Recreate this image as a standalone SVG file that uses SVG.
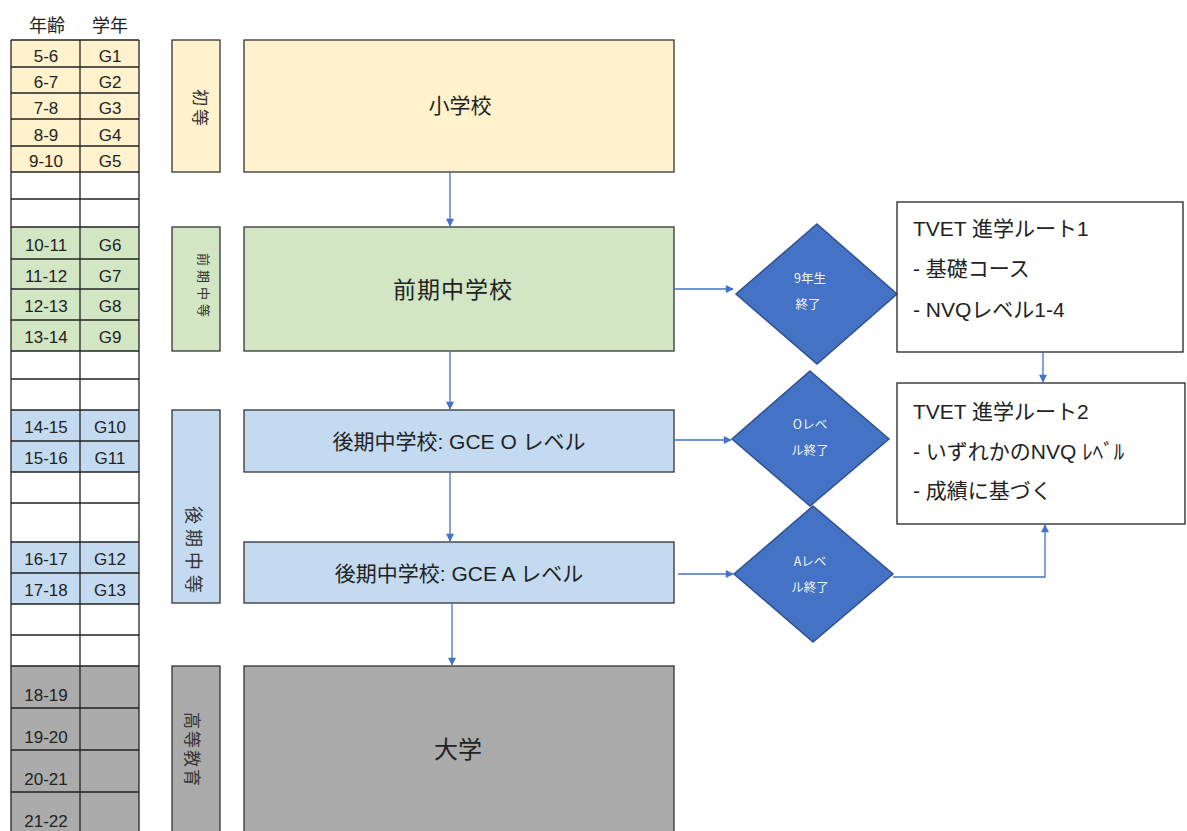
<svg xmlns="http://www.w3.org/2000/svg" width="1187" height="831" viewBox="0 0 1187 831">
<defs>
<marker id="arr" viewBox="0 0 10 10" refX="9" refY="5" markerWidth="9" markerHeight="8" markerUnits="userSpaceOnUse" orient="auto">
<path d="M0,0 L10,5 L0,10 Z" fill="#4472C4"/>
</marker>
<style>
.cell{stroke:#222;stroke-width:1.3}
.y{fill:#FFF2CC}.g{fill:#D2E6C4}.b{fill:#C3DAF0}.k{fill:#ABABAB}.w{fill:#FFFFFF}
.t{font-family:"Liberation Sans","Noto Sans CJK JP",sans-serif;font-size:17px;fill:#222;text-anchor:middle}
.h{font-family:"Noto Sans CJK JP",sans-serif;font-size:18px;fill:#222;text-anchor:middle}
.box{stroke:#333;stroke-width:1.3}
.vl{font-family:"Noto Sans CJK JP",sans-serif;fill:#333;text-anchor:middle;dominant-baseline:central}
.mt{font-family:"Liberation Sans","Noto Sans CJK JP",sans-serif;fill:#222;text-anchor:middle;dominant-baseline:central}
.dia{fill:#4472C4;stroke:#2F528F;stroke-width:1.5}
.dt{font-family:"Noto Sans CJK JP",sans-serif;font-size:12.5px;fill:#F2F2F2;text-anchor:middle}
.tv{fill:#FFFFFF;stroke:#222;stroke-width:1.3}
.tt{font-family:"Liberation Sans","Noto Sans CJK JP",sans-serif;font-size:21px;fill:#222}
.con{stroke:#4472C4;stroke-width:1.3;fill:none;marker-end:url(#arr)}
</style>
</defs>
<rect width="1187" height="831" fill="#FFFFFF"/>

<g id="header">
<text class="h" x="47" y="32">年齢</text>
<text class="h" x="110" y="32">学年</text>
</g>

<g id="table">
<rect class="y" x="11" y="40" width="128" height="132"/>
<rect class="w" x="11" y="172" width="128" height="55"/>
<rect class="g" x="11" y="227" width="128" height="124"/>
<rect class="w" x="11" y="351" width="128" height="59"/>
<rect class="b" x="11" y="410" width="128" height="62"/>
<rect class="w" x="11" y="472" width="128" height="70"/>
<rect class="b" x="11" y="542" width="128" height="62"/>
<rect class="w" x="11" y="604" width="128" height="62"/>
<rect class="k" x="11" y="666" width="128" height="170"/>
<g class="cell">
<line x1="11" y1="40" x2="11" y2="831"/>
<line x1="80" y1="40" x2="80" y2="831"/>
<line x1="139" y1="40" x2="139" y2="831"/>
<path d="M11,40H139M11,67H139M11,93H139M11,119H139M11,146H139M11,172H139M11,199H139M11,227H139M11,259H139M11,289H139M11,320H139M11,351H139M11,379H139M11,410H139M11,441H139M11,472H139M11,503H139M11,542H139M11,573H139M11,604H139M11,635H139M11,666H139M11,708H139M11,750H139M11,792H139"/>
</g>
<g>
<text class="t" x="46" y="62">5-6</text><text class="t" x="110" y="62">G1</text>
<text class="t" x="46" y="88">6-7</text><text class="t" x="110" y="88">G2</text>
<text class="t" x="46" y="114">7-8</text><text class="t" x="110" y="114">G3</text>
<text class="t" x="46" y="141">8-9</text><text class="t" x="110" y="141">G4</text>
<text class="t" x="46" y="167">9-10</text><text class="t" x="110" y="167">G5</text>
<text class="t" x="46" y="251">10-11</text><text class="t" x="110" y="251">G6</text>
<text class="t" x="46" y="282">11-12</text><text class="t" x="110" y="282">G7</text>
<text class="t" x="46" y="312">12-13</text><text class="t" x="110" y="312">G8</text>
<text class="t" x="46" y="343">13-14</text><text class="t" x="110" y="343">G9</text>
<text class="t" x="46" y="433">14-15</text><text class="t" x="110" y="433">G10</text>
<text class="t" x="46" y="464">15-16</text><text class="t" x="110" y="464">G11</text>
<text class="t" x="46" y="565">16-17</text><text class="t" x="110" y="565">G12</text>
<text class="t" x="46" y="596">17-18</text><text class="t" x="110" y="596">G13</text>
<text class="t" x="46" y="701">18-19</text>
<text class="t" x="46" y="743">19-20</text>
<text class="t" x="46" y="785">20-21</text>
<text class="t" x="46" y="827">21-22</text>
</g>
</g>

<g id="stage-primary">
<rect class="box y" x="172" y="40" width="48" height="132"/>
<text class="vl" font-size="17" transform="translate(201,109) rotate(90)" letter-spacing="3">初等</text>
</g>
<g id="stage-lower-secondary">
<rect class="box g" x="172" y="227" width="48" height="124"/>
<text class="vl" font-size="13" transform="translate(204,287) rotate(90)" letter-spacing="4">前期中等</text>
</g>
<g id="stage-upper-secondary">
<rect class="box b" x="172" y="410" width="48" height="193"/>
<text class="vl" font-size="18" transform="translate(195,552) rotate(90)" letter-spacing="5">後期中等</text>
</g>
<g id="stage-higher">
<rect class="box k" x="172" y="666" width="48" height="170"/>
<text class="vl" font-size="17" transform="translate(193,750) rotate(90)" letter-spacing="2">高等教育</text>
</g>

<g id="primary-school">
<rect class="box y" x="244" y="40" width="430" height="132"/>
<text class="mt" x="460" y="105" font-size="21">小学校</text>
</g>
<g id="lower-secondary-school">
<rect class="box g" x="244" y="227" width="430" height="124"/>
<text class="mt" x="453" y="290" font-size="23" letter-spacing="1">前期中学校</text>
</g>
<g id="gce-o">
<rect class="box b" x="244" y="410" width="430" height="62"/>
<text class="mt" x="459" y="441" font-size="21">後期中学校: GCE O レベル</text>
</g>
<g id="gce-a">
<rect class="box b" x="244" y="542" width="430" height="61"/>
<text class="mt" x="459" y="573" font-size="21">後期中学校: GCE A レベル</text>
</g>
<g id="university">
<rect class="box k" x="244" y="666" width="430" height="170"/>
<text class="mt" x="458" y="749" font-size="24">大学</text>
</g>

<g id="d-grade9">
<polygon class="dia" points="817,224 897,294 817,364 736,294"/>
<text class="dt" x="810" y="283">9年生</text>
<text class="dt" x="808" y="309">終了</text>
</g>
<g id="d-olevel">
<polygon class="dia" points="810,371 889,439 810,506 732,439"/>
<text class="dt" x="810" y="429">Oレベ</text>
<text class="dt" x="810" y="455">ル終了</text>
</g>
<g id="d-alevel">
<polygon class="dia" points="813,506 893,574 813,642 734,574"/>
<text class="dt" x="810" y="566">Aレベ</text>
<text class="dt" x="810" y="592">ル終了</text>
</g>

<g id="tvet1">
<rect class="tv" x="897" y="202" width="286" height="150"/>
<text class="tt" x="913" y="236">TVET 進学ルート1</text>
<text class="tt" x="913" y="276">- 基礎コース</text>
<text class="tt" x="913" y="317">- NVQレベル1-4</text>
</g>
<g id="tvet2">
<rect class="tv" x="897" y="383" width="288" height="141"/>
<text class="tt" x="913" y="419">TVET 進学ルート2</text>
<text class="tt" x="913" y="459">-  いずれかのNVQ ﾚﾍﾞﾙ</text>
<text class="tt" x="913" y="498">- 成績に基づく</text>
</g>

<g id="connectors">
<line class="con" x1="450" y1="172" x2="450" y2="226"/>
<line class="con" x1="450" y1="351" x2="450" y2="409"/>
<line class="con" x1="450" y1="472" x2="450" y2="541"/>
<line class="con" x1="452" y1="603" x2="452" y2="665"/>
<line class="con" x1="674" y1="289" x2="733" y2="289"/>
<line class="con" x1="674" y1="440" x2="731" y2="440"/>
<line class="con" x1="678" y1="574" x2="733" y2="574"/>
<line class="con" x1="1043" y1="352" x2="1043" y2="382"/>
<path class="con" d="M893,577 H1045 V525"/>
</g>
</svg>
